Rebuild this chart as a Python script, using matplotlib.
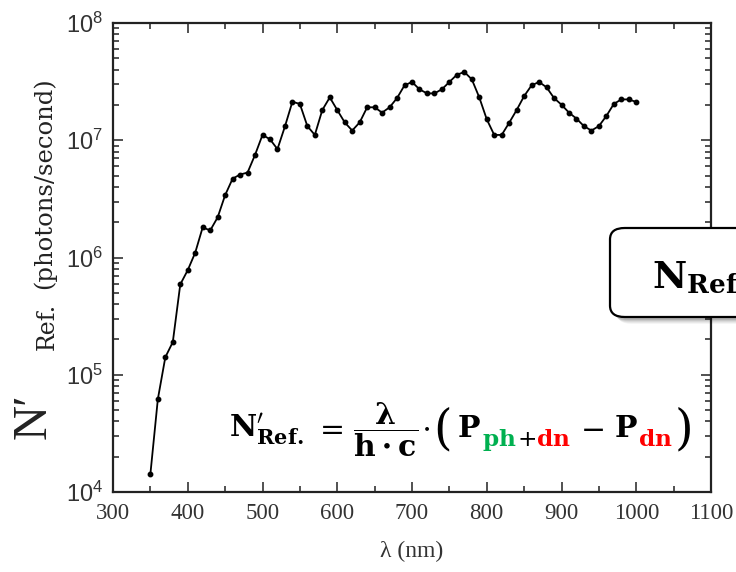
import math
import matplotlib
matplotlib.use("Agg")
import matplotlib.pyplot as plt
from matplotlib.patches import FancyBboxPatch
from matplotlib.ticker import LogLocator, FixedLocator, NullFormatter, FuncFormatter

# wavelength (nm) and reference photon rate
wavelength = list(range(350, 1001, 10))
photons = [
    1.42e4, 6.2e4, 1.41e5, 1.9e5, 5.9e5, 7.8e5, 1.1e6, 1.81e6, 1.7e6, 2.2e6,
    3.4e6, 4.7e6, 5.1e6, 5.3e6, 7.5e6, 1.11e7, 1.02e7, 8.4e6, 1.31e7, 2.13e7,
    2.04e7, 1.32e7, 1.11e7, 1.81e7, 2.32e7, 1.81e7, 1.42e7, 1.21e7, 1.42e7, 1.91e7,
    1.91e7, 1.72e7, 1.91e7, 2.29e7, 2.94e7, 3.14e7, 2.72e7, 2.51e7, 2.51e7, 2.72e7,
    3.14e7, 3.62e7, 3.82e7, 3.31e7, 2.32e7, 1.51e7, 1.11e7, 1.11e7, 1.41e7, 1.81e7,
    2.38e7, 2.94e7, 3.14e7, 2.83e7, 2.29e7, 2.01e7, 1.72e7, 1.53e7, 1.32e7, 1.21e7,
    1.32e7, 1.61e7, 2.04e7, 2.23e7, 2.23e7, 2.12e7,
]
x_ticks = [300, 400, 500, 600, 700, 800, 900, 1000, 1100]

W, H = 736, 572
plt.rcParams["mathtext.fontset"] = "custom"
plt.rcParams["mathtext.rm"] = "Liberation Sans"
plt.rcParams["mathtext.it"] = "Liberation Sans:italic"
plt.rcParams["mathtext.bf"] = "Liberation Sans:bold"

fig = plt.figure(figsize=(W / 100, H / 100), dpi=100)
ax = fig.add_axes([113 / W, 1 - 492 / H, (711 - 113) / W, (492 - 23) / H])

ax.plot(wavelength, photons, color="black", lw=1.3, marker="o", ms=3.2)
ax.set_yscale("log")
ax.set_xlim(300, 1100)
ax.set_ylim(1e4, 1e8)

ax.xaxis.set_major_locator(FixedLocator(x_ticks))
ax.xaxis.set_minor_locator(FixedLocator([t + 50 for t in x_ticks[:-1]]))
ax.yaxis.set_major_locator(LogLocator(base=10, numticks=10))
ax.yaxis.set_minor_locator(LogLocator(base=10, subs=range(2, 10), numticks=20))
ax.yaxis.set_minor_formatter(NullFormatter())
ax.yaxis.set_major_formatter(FuncFormatter(lambda v, p: r"$10^{%d}$" % round(math.log10(v))))

ax.tick_params(which="both", direction="in", top=True, right=True, width=1.1, color="#222222")
ax.tick_params(which="major", length=7)
ax.tick_params(which="minor", length=4)
ax.tick_params(axis="x", pad=8, labelsize=16.5, labelcolor="#333333")
ax.tick_params(axis="y", pad=7, labelsize=17, labelcolor="#333333")
for lab in ax.get_xticklabels():
    lab.set_fontfamily("Liberation Serif")
for sp in ax.spines.values():
    sp.set_linewidth(1.6)
    sp.set_color("#222222")

ax.set_xlabel("λ (nm)", fontsize=17, family="Liberation Serif", color="#333333", labelpad=12)

# rotated y label, built from pieces
serif = ["Liberation Serif", "DejaVu Serif"]
fig.text(46 / W, 1 - 439 / H, "N′", rotation=90, rotation_mode="anchor", ha="left", va="baseline",
         fontsize=35, family=serif, color="#222222")
fig.text(54 / W, 1 - 350 / H, "Ref.", rotation=90, rotation_mode="anchor", ha="left", va="baseline",
         fontsize=17, family="DejaVu Serif", color="#222222")
fig.text(51 / W, 1 - 289 / H, "(photons/second)", rotation=90, rotation_mode="anchor", ha="left",
         va="baseline", fontsize=17.5, family="DejaVu Serif", color="#222222")

# boxed quantity on the right, cut by the figure edge
shadow_steps = [(7, 0.04), (6, 0.05), (5, 0.06), (4, 0.08), (3, 0.10)]
for off, a in shadow_steps:
    fig.patches.append(FancyBboxPatch((610 / W + off / W, 1 - 317 / H - off / H), 300 / W, 89 / H,
                                      boxstyle="round,pad=0,rounding_size=0.02", transform=fig.transFigure,
                                      facecolor="black", edgecolor="none", alpha=a, zorder=5))
fig.patches.append(FancyBboxPatch((610 / W, 1 - 317 / H), 300 / W, 89 / H,
                                  boxstyle="round,pad=0,rounding_size=0.02", transform=fig.transFigure,
                                  facecolor="white", edgecolor="black", lw=1.6, zorder=6))
fig.text(652 / W, 1 - 288 / H, r"$\mathbf{N}_{\mathbf{Ref.}}$", fontsize=27, math_fontfamily="dejavuserif",
         ha="left", va="baseline", zorder=7)

# formula, placed piece by piece so the subscripts can be coloured
renderer = fig.canvas.get_renderer()
F = 21.5
S = F * 0.78
base_y = 437
green, red = "#00B050", "#FF0000"
pieces = [
    (r"$\mathbf{N}^{\prime}_{\mathbf{Ref.}}$", F, "black", 0, 10),
    (r"$=$", F, "black", 0, 10),
    (r"$\dfrac{\boldsymbol{\lambda}}{\mathbf{h\cdot c}}$", F, "black", 0, 2),
    (r"$\cdot$", F, "black", 0, 4),
    ("(", F * 1.6, "black", 6, 5),
    (r"$\mathbf{P}$", F, "black", 0, 1),
    (r"$\mathbf{ph}$", S, green, 9, 0),
    (r"$+$", S, "black", 9, 0),
    (r"$\mathbf{dn}$", S, red, 9, 10),
    (r"$-$", F, "black", 0, 10),
    (r"$\mathbf{P}$", F, "black", 0, 0),
    (r"$\mathbf{dn}$", S, red, 9, 2),
    (")", F * 1.6, "black", 6, 0),
]
x = 229
for txt, size, col, dy, gap in pieces:
    kw = dict(math_fontfamily="dejavuserif") if txt.startswith("$") else dict(family="DejaVu Serif")
    t = fig.text(x / W, 1 - (base_y + dy) / H, txt, fontsize=size, color=col, ha="left", va="baseline", **kw)
    bb = t.get_window_extent(renderer)
    x += bb.width + gap

fig.savefig("out.png", dpi=100)
